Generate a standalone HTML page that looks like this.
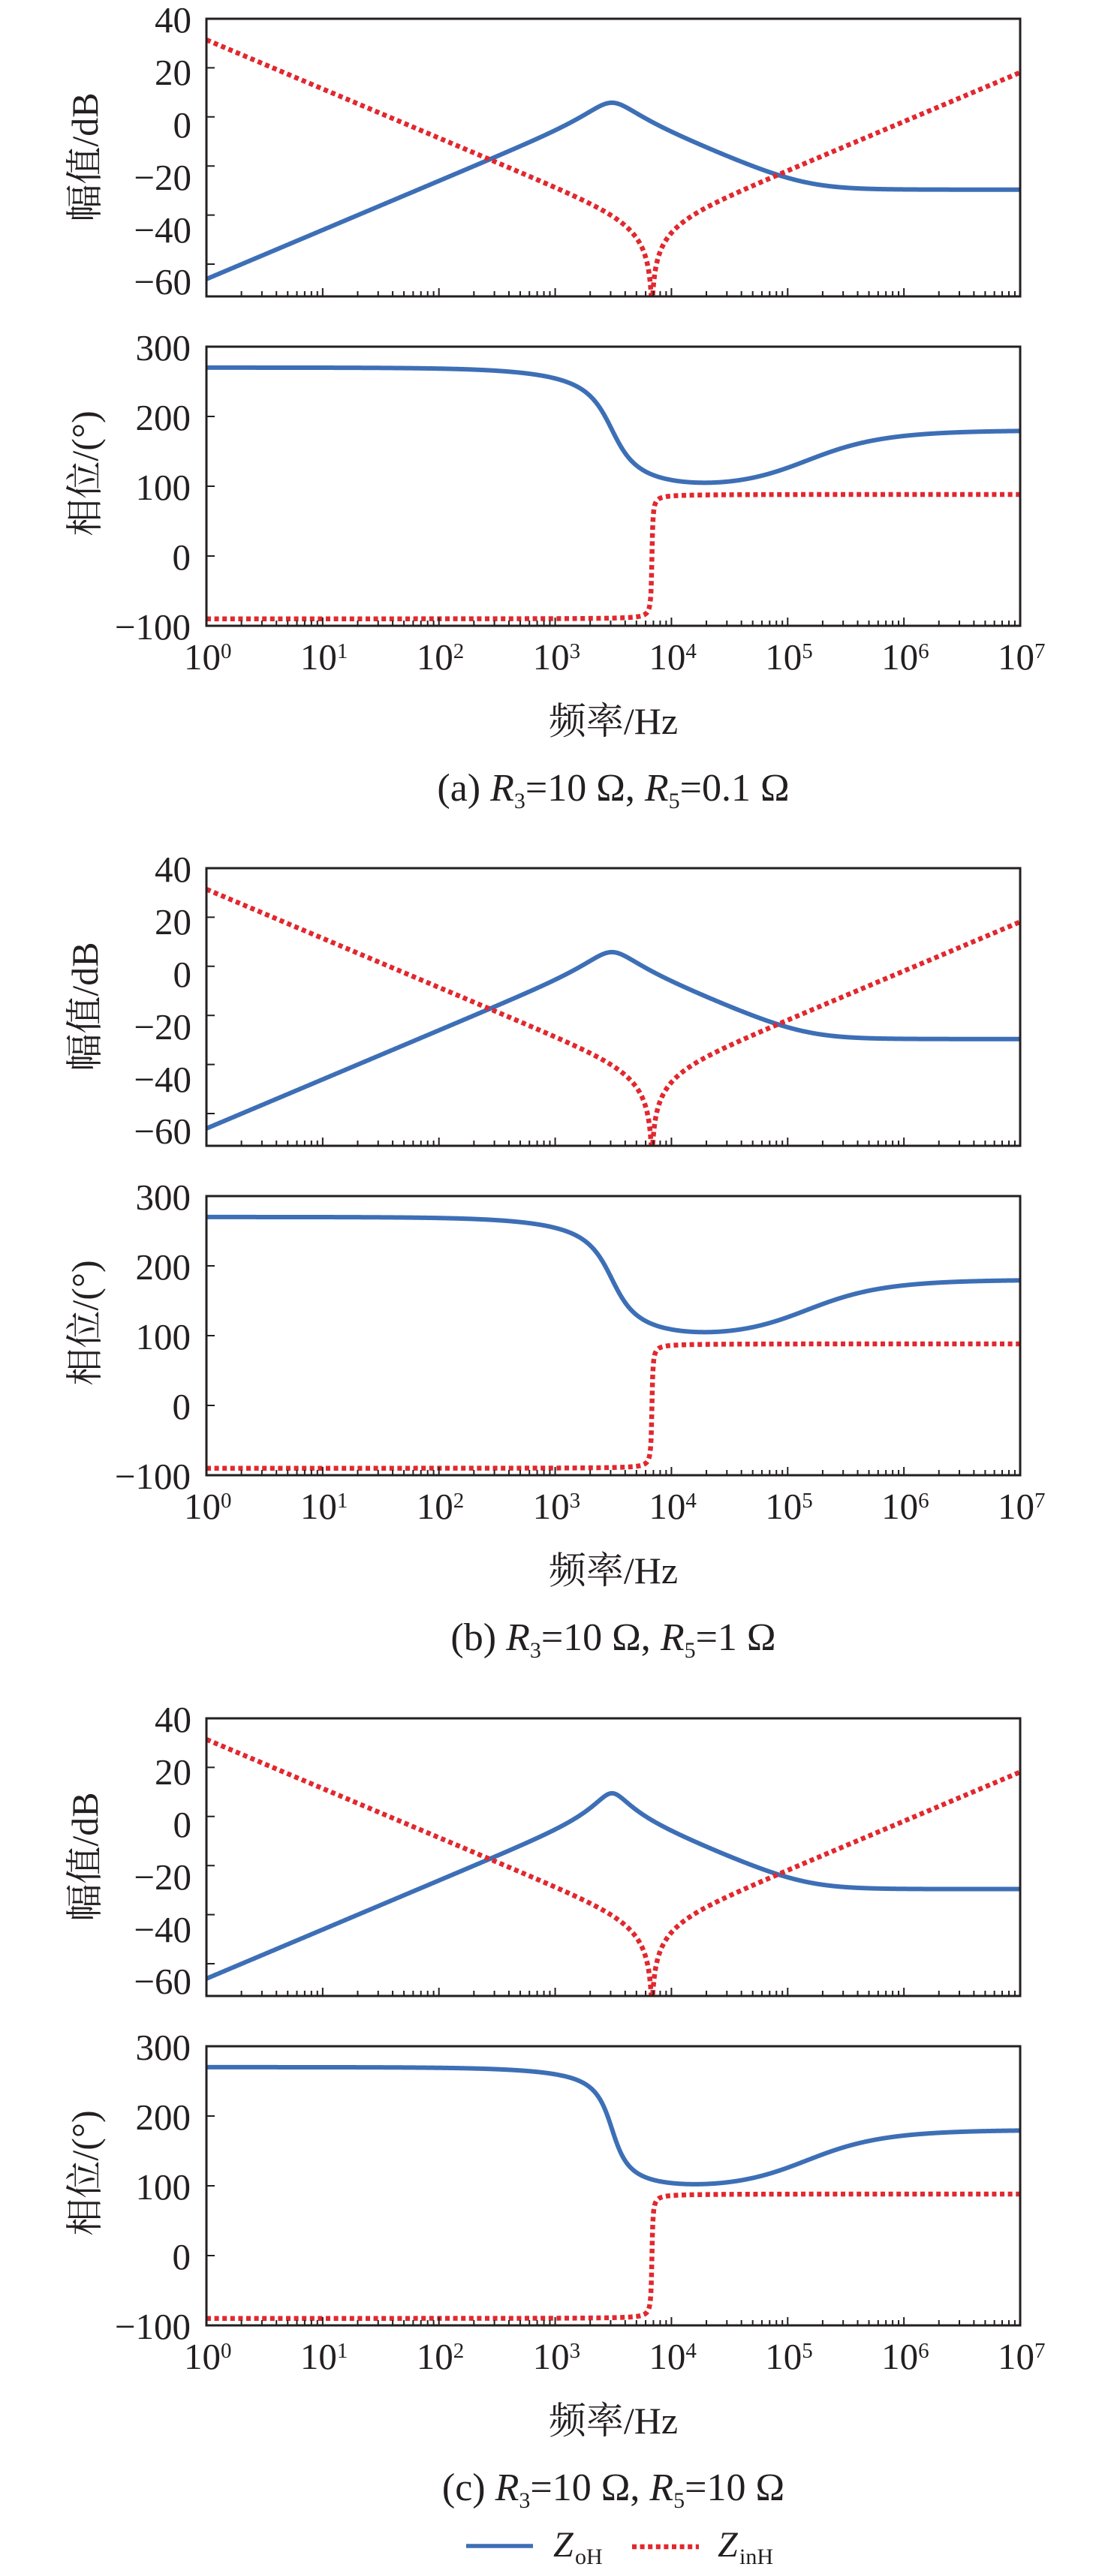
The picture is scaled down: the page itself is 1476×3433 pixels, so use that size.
<!DOCTYPE html>
<html><head><meta charset="utf-8">
<style>
html,body{margin:0;padding:0;background:#fff;}
svg{display:block;}
text{font-family:"Liberation Serif","Noto Serif CJK SC",serif;fill:#231F20;}
</style></head><body>
<svg id="s" width="1476" height="3433" viewBox="0 0 1476 3433" xmlns="http://www.w3.org/2000/svg">
<rect width="1476" height="3433" fill="#fff"/>
<defs>
<clipPath id="cm" clipPathUnits="userSpaceOnUse"><rect x="275" y="25" width="1084" height="370"/></clipPath>
<clipPath id="cp" clipPathUnits="userSpaceOnUse"><rect x="275" y="462" width="1084" height="372"/></clipPath>
</defs>

<!-- Panel a -->
<g id="g0" transform="translate(0,0)">
<g font-size="49" text-anchor="end">
<text x="255" y="43">40</text><text x="255" y="113">20</text><text x="255" y="183">0</text>
<text x="255" y="253">−20</text><text x="255" y="323">−40</text><text x="255" y="392">−60</text>
<text x="254" y="480">300</text><text x="254" y="573">200</text><text x="254" y="666">100</text>
<text x="254" y="759">0</text><text x="254" y="852">−100</text>
</g>
<text transform="translate(130,209.5) rotate(-90)" text-anchor="middle" font-size="50">幅值/dB</text>
<text transform="translate(130,631) rotate(-90)" text-anchor="middle" font-size="50">相位/(°)</text>
<g font-size="49">
<text x="245" y="892">10</text><text x="294" y="877" font-size="29">0</text>
<text x="399.9" y="892">10</text><text x="448.9" y="877" font-size="29">1</text>
<text x="554.7" y="892">10</text><text x="603.7" y="877" font-size="29">2</text>
<text x="709.6" y="892">10</text><text x="758.6" y="877" font-size="29">3</text>
<text x="864.4" y="892">10</text><text x="913.4" y="877" font-size="29">4</text>
<text x="1019.3" y="892">10</text><text x="1068.3" y="877" font-size="29">5</text>
<text x="1174.1" y="892">10</text><text x="1223.1" y="877" font-size="29">6</text>
<text x="1329" y="892">10</text><text x="1378" y="877" font-size="29">7</text>
</g>
<text x="817" y="978" text-anchor="middle" font-size="50">频率/Hz</text>
<text x="817" y="1067" text-anchor="middle" font-size="52">(a) <tspan font-style="italic">R</tspan><tspan font-size="30" dy="10">3</tspan><tspan dy="-10">=10 Ω, </tspan><tspan font-style="italic">R</tspan><tspan font-size="30" dy="10">5</tspan><tspan dy="-10">=0.1 Ω</tspan></text>
</g>

<!-- Panel b -->
<g id="g1" transform="translate(0,1132)">
<g font-size="49" text-anchor="end">
<text x="255" y="43">40</text><text x="255" y="113">20</text><text x="255" y="183">0</text>
<text x="255" y="253">−20</text><text x="255" y="323">−40</text><text x="255" y="392">−60</text>
<text x="254" y="480">300</text><text x="254" y="573">200</text><text x="254" y="666">100</text>
<text x="254" y="759">0</text><text x="254" y="852">−100</text>
</g>
<text transform="translate(130,209.5) rotate(-90)" text-anchor="middle" font-size="50">幅值/dB</text>
<text transform="translate(130,631) rotate(-90)" text-anchor="middle" font-size="50">相位/(°)</text>
<g font-size="49">
<text x="245" y="892">10</text><text x="294" y="877" font-size="29">0</text>
<text x="399.9" y="892">10</text><text x="448.9" y="877" font-size="29">1</text>
<text x="554.7" y="892">10</text><text x="603.7" y="877" font-size="29">2</text>
<text x="709.6" y="892">10</text><text x="758.6" y="877" font-size="29">3</text>
<text x="864.4" y="892">10</text><text x="913.4" y="877" font-size="29">4</text>
<text x="1019.3" y="892">10</text><text x="1068.3" y="877" font-size="29">5</text>
<text x="1174.1" y="892">10</text><text x="1223.1" y="877" font-size="29">6</text>
<text x="1329" y="892">10</text><text x="1378" y="877" font-size="29">7</text>
</g>
<text x="817" y="978" text-anchor="middle" font-size="50">频率/Hz</text>
<text x="817" y="1067" text-anchor="middle" font-size="52">(b) <tspan font-style="italic">R</tspan><tspan font-size="30" dy="10">3</tspan><tspan dy="-10">=10 Ω, </tspan><tspan font-style="italic">R</tspan><tspan font-size="30" dy="10">5</tspan><tspan dy="-10">=1 Ω</tspan></text>
</g>

<!-- Panel c -->
<g id="g2" transform="translate(0,2265)">
<g font-size="49" text-anchor="end">
<text x="255" y="43">40</text><text x="255" y="113">20</text><text x="255" y="183">0</text>
<text x="255" y="253">−20</text><text x="255" y="323">−40</text><text x="255" y="392">−60</text>
<text x="254" y="480">300</text><text x="254" y="573">200</text><text x="254" y="666">100</text>
<text x="254" y="759">0</text><text x="254" y="852">−100</text>
</g>
<text transform="translate(130,209.5) rotate(-90)" text-anchor="middle" font-size="50">幅值/dB</text>
<text transform="translate(130,631) rotate(-90)" text-anchor="middle" font-size="50">相位/(°)</text>
<g font-size="49">
<text x="245" y="892">10</text><text x="294" y="877" font-size="29">0</text>
<text x="399.9" y="892">10</text><text x="448.9" y="877" font-size="29">1</text>
<text x="554.7" y="892">10</text><text x="603.7" y="877" font-size="29">2</text>
<text x="709.6" y="892">10</text><text x="758.6" y="877" font-size="29">3</text>
<text x="864.4" y="892">10</text><text x="913.4" y="877" font-size="29">4</text>
<text x="1019.3" y="892">10</text><text x="1068.3" y="877" font-size="29">5</text>
<text x="1174.1" y="892">10</text><text x="1223.1" y="877" font-size="29">6</text>
<text x="1329" y="892">10</text><text x="1378" y="877" font-size="29">7</text>
</g>
<text x="817" y="978" text-anchor="middle" font-size="50">频率/Hz</text>
<text x="817" y="1067" text-anchor="middle" font-size="52">(c) <tspan font-style="italic">R</tspan><tspan font-size="30" dy="10">3</tspan><tspan dy="-10">=10 Ω, </tspan><tspan font-style="italic">R</tspan><tspan font-size="30" dy="10">5</tspan><tspan dy="-10">=10 Ω</tspan></text>
</g>

<!-- Legend -->
<line x1="621" y1="3393" x2="710" y2="3393" stroke="#3D6FB6" stroke-width="5.5"/>
<text x="737" y="3407" font-size="48" font-style="italic">Z</text>
<text x="766" y="3417" font-size="30">oH</text>
<line x1="842" y1="3394" x2="931" y2="3394" stroke="#E1282E" stroke-width="6.5" stroke-dasharray="6 4.6"/>
<text x="956" y="3407" font-size="48" font-style="italic">Z</text>
<text x="985" y="3417" font-size="30">inH</text>
</svg>
<script>
(function(){
var NS="http://www.w3.org/2000/svg";
var X0=275,X1=1359,DX=(X1-X0)/7;
var BLUE="#3D6FB6",RED="#E1282E",K="#231F20";
function el(tag,a,p){var e=document.createElementNS(NS,tag);for(var k in a)e.setAttribute(k,a[k]);p.appendChild(e);return e;}
var L=7.9e-5,C=3.34e-5,Rc=0.0335,C2=4.28e-3,L2=1.28e-7,R2=1.7e-4;
function Zo(f,Rp){var w=2*Math.PI*f;var a=Rc,b=-1/(w*C);var d=a*a+b*b;
 var yr=1/Rp+a/d;var yi=-1/(w*L)-b/d;var dd=yr*yr+yi*yi;return [yr/dd,-yi/dd];}
function Zi(f){var w=2*Math.PI*f;return [R2,w*L2-1/(w*C2)];}
function xf(lf){return X0+lf*DX;}
function ym(db){return 25+(40-db)*3.27;}
function yp(p){return 741-p*0.93;}
var panels=[{g:"g0",Rp:2.0},{g:"g1",Rp:2.0},{g:"g2",Rp:3.1}];
panels.forEach(function(P){
 var g=document.getElementById(P.g);
 var bm="",rm="",bp="",rp="";
 for(var i=0;i<=1750;i++){
  var lf=i*0.004;var f=Math.pow(10,lf);var x=xf(lf).toFixed(2);
  var zo=Zo(f,P.Rp);var zi=Zi(f);
  var dbo=20*Math.log10(Math.hypot(zo[0],zo[1]));
  var dbi=20*Math.log10(Math.hypot(zi[0],zi[1]));
  var po=Math.atan2(zo[1],zo[0])*180/Math.PI+180;
  var pi=Math.atan2(zi[1],zi[0])*180/Math.PI; if(pi>0)pi*=0.98;
  var c=(i==0?"M":"L");
  bm+=c+x+","+ym(dbo).toFixed(2);
  rm+=c+x+","+Math.min(ym(dbi),430).toFixed(2);
  bp+=c+x+","+yp(po).toFixed(2);
  rp+=c+x+","+yp(pi).toFixed(2);
 }
 var gm=el("g",{"clip-path":"url(#cm)"},g);
 el("path",{d:bm,fill:"none",stroke:BLUE,"stroke-width":6,"stroke-linejoin":"round"},gm);
 el("path",{d:rm,fill:"none",stroke:RED,"stroke-width":6.5,"stroke-dasharray":"6 4.6"},gm);
 var gp=el("g",{"clip-path":"url(#cp)"},g);
 el("path",{d:bp,fill:"none",stroke:BLUE,"stroke-width":6,"stroke-linejoin":"round"},gp);
 el("path",{d:rp,fill:"none",stroke:RED,"stroke-width":6.5,"stroke-dasharray":"6 4.6"},gp);
 // ticks
 var t="";
 [20,0,-20,-40,-60].forEach(function(v){var y=ym(v);t+="M275,"+y+"L286,"+y;});
 [200,100,0].forEach(function(v){var y=yp(v);t+="M275,"+y+"L286,"+y;});
 [395,834].forEach(function(yb){
  for(var k=0;k<7;k++){
   if(k>0){var x=xf(k);t+="M"+x+","+yb+"L"+x+","+(yb-11);}
   for(var m=2;m<=9;m++){var xm=xf(k+Math.log10(m));t+="M"+xm+","+yb+"L"+xm+","+(yb-7);}
  }
 });
 el("path",{d:t,fill:"none",stroke:K,"stroke-width":2},g);
 el("rect",{x:275,y:25,width:1084,height:370,fill:"none",stroke:K,"stroke-width":3},g);
 el("rect",{x:275,y:462,width:1084,height:372,fill:"none",stroke:K,"stroke-width":3},g);
});
})();
</script>
</body></html>
